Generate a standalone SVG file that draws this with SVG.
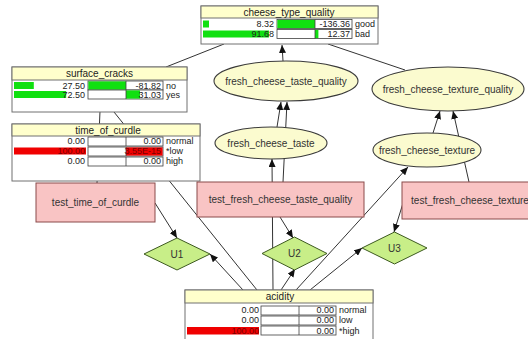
<svg xmlns="http://www.w3.org/2000/svg" width="528" height="339" viewBox="0 0 528 339">
<style>
.frame{fill:#fff;stroke:#707070;stroke-width:1}
.tbar{fill:#ffffcc;stroke:#707070;stroke-width:1}
.tt{font-family:"Liberation Sans",Arial,sans-serif;font-size:10px;fill:#222;text-anchor:middle}
.v{font-family:"Liberation Sans",Arial,sans-serif;font-size:9px;fill:#222;text-anchor:end}
.vr{font-family:"Liberation Sans",Arial,sans-serif;font-size:9px;fill:#7a0000;text-anchor:end}
.lab{font-family:"Liberation Sans",Arial,sans-serif;font-size:9px;fill:#222}
.box{fill:#fff;stroke:#404040;stroke-width:0.8}
.div{stroke:#404040;stroke-width:0.8}
.g{fill:#10e010}
.r{fill:#f00000}
.ell{fill:#fbfbcf;stroke:#3a3a3a;stroke-width:1.1}
.pink{fill:#f9c4c4;stroke:#8a4a4a;stroke-width:1}
.dia{fill:#c8ee88;stroke:#3d5a20;stroke-width:1}
.nt{font-family:"Liberation Sans",Arial,sans-serif;font-size:10px;fill:#333;text-anchor:middle}
.edge{stroke:#333;stroke-width:1;fill:none}
</style>
<defs>
<marker id="ah" markerUnits="userSpaceOnUse" markerWidth="9" markerHeight="7" refX="8" refY="3.5" orient="auto">
<path d="M0,0 L8,3.5 L0,7 z" fill="#111"/>
</marker>
</defs>

<g id="connectors">
<line class="edge" x1="166" y1="67" x2="224" y2="44"/>
<line class="edge" x1="283" y1="61" x2="282" y2="45" marker-end="url(#ah)"/>
<line class="edge" x1="405" y1="70" x2="328" y2="44"/>
<line class="edge" x1="277" y1="127" x2="281" y2="102" marker-end="url(#ah)"/>
<line class="edge" x1="283" y1="182" x2="287" y2="102" marker-end="url(#ah)"/>
<line class="edge" x1="273" y1="290" x2="272" y2="159" marker-end="url(#ah)"/>
<line class="edge" x1="280" y1="217" x2="293" y2="238" marker-end="url(#ah)"/>
<line class="edge" x1="433" y1="133" x2="440" y2="111" marker-end="url(#ah)"/>
<line class="edge" x1="469" y1="182" x2="453" y2="111" marker-end="url(#ah)"/>
<line class="edge" x1="296" y1="290" x2="408" y2="167" marker-end="url(#ah)"/>
<line class="edge" x1="404" y1="200" x2="394" y2="232" marker-end="url(#ah)"/>
<line class="edge" x1="310" y1="290" x2="362" y2="248" marker-end="url(#ah)"/>
<line class="edge" x1="281" y1="290" x2="295" y2="269" marker-end="url(#ah)"/>
<line class="edge" x1="243" y1="290" x2="210" y2="254" marker-end="url(#ah)"/>
<line class="edge" x1="155" y1="203" x2="177" y2="238" marker-end="url(#ah)"/>
<line class="edge" x1="97" y1="183" x2="100" y2="111"/>
<line class="edge" x1="257" y1="290" x2="114" y2="112"/>
</g>

<g id="cheese_type_quality">
<rect class="frame" x="201" y="6" width="177" height="38"/>
<rect class="tbar" x="201" y="6" width="177" height="12"/>
<text class="tt" x="289" y="15.5">cheese_type_quality</text>
<rect class="g" x="203" y="20.5" width="6" height="7"/>
<text class="v" x="274" y="27">8.32</text>
<rect class="box" x="277" y="19.5" width="75" height="9"/>
<rect class="g" x="277.4" y="19.9" width="37.6" height="8.2"/>
<line class="div" x1="315" y1="19.5" x2="315" y2="28.5"/>
<text class="v" x="350" y="27">-136.36</text>
<text class="lab" x="355" y="27">good</text>
<rect class="g" x="203" y="30.5" width="66" height="7"/>
<text class="v" x="274" y="37">91.68</text>
<rect class="box" x="277" y="29.5" width="75" height="9"/>
<rect class="g" x="315" y="29.9" width="3.4" height="8.2"/>
<line class="div" x1="315" y1="29.5" x2="315" y2="38.5"/>
<text class="v" x="350" y="37">12.37</text>
<text class="lab" x="355" y="37">bad</text>
</g>

<g id="surface_cracks">
<rect class="frame" x="12" y="67" width="175" height="45"/>
<rect class="tbar" x="12" y="67" width="175" height="13"/>
<text class="tt" x="99.5" y="77">surface_cracks</text>
<rect class="g" x="14" y="82" width="19.8" height="7"/>
<text class="v" x="85" y="88.5">27.50</text>
<rect class="box" x="88" y="81" width="75" height="9"/>
<rect class="g" x="88.4" y="81.4" width="37.6" height="8.2"/>
<line class="div" x1="126" y1="81" x2="126" y2="90"/>
<text class="v" x="161" y="88.5">-81.82</text>
<text class="lab" x="166" y="88.5">no</text>
<rect class="g" x="14" y="91" width="52.2" height="7"/>
<text class="v" x="85" y="97.5">72.50</text>
<rect class="box" x="88" y="90" width="75" height="9"/>
<rect class="g" x="126" y="90.4" width="14" height="8.2"/>
<line class="div" x1="126" y1="90" x2="126" y2="99"/>
<text class="v" x="161" y="97.5">31.03</text>
<text class="lab" x="166" y="97.5">yes</text>
</g>

<g id="time_of_curdle">
<rect class="frame" x="12" y="124" width="188" height="57"/>
<rect class="tbar" x="12" y="124" width="188" height="12"/>
<text class="tt" x="108" y="133.5">time_of_curdle</text>
<text class="v" x="85" y="144">0.00</text>
<rect class="box" x="88" y="137" width="75" height="9"/>
<line class="div" x1="126" y1="137" x2="126" y2="146"/>
<text class="v" x="161" y="144">0.00</text>
<text class="lab" x="166" y="144">normal</text>
<rect class="r" x="14" y="147.5" width="72" height="7"/>
<text class="vr" x="85" y="154">100.00</text>
<rect class="box" x="88" y="147" width="75" height="9"/>
<rect class="r" x="126" y="147.4" width="36.6" height="8.2"/>
<line class="div" x1="126" y1="147" x2="126" y2="156"/>
<text class="vr" x="161" y="154">3.55E-15</text>
<text class="lab" x="166" y="154">*low</text>
<text class="v" x="85" y="164">0.00</text>
<rect class="box" x="88" y="157" width="75" height="9"/>
<line class="div" x1="126" y1="157" x2="126" y2="166"/>
<text class="v" x="161" y="164">0.00</text>
<text class="lab" x="166" y="164">high</text>
</g>

<g id="acidity">
<rect class="frame" x="185" y="290" width="188" height="55"/>
<rect class="tbar" x="185" y="290" width="188" height="13"/>
<text class="tt" x="280" y="300">acidity</text>
<text class="v" x="259" y="313">0.00</text>
<rect class="box" x="261" y="306" width="75" height="9"/>
<line class="div" x1="299" y1="306" x2="299" y2="315"/>
<text class="v" x="334" y="313">0.00</text>
<text class="lab" x="339" y="313">normal</text>
<text class="v" x="259" y="323">0.00</text>
<rect class="box" x="261" y="316" width="75" height="9"/>
<line class="div" x1="299" y1="316" x2="299" y2="325"/>
<text class="v" x="334" y="323">0.00</text>
<text class="lab" x="339" y="323">low</text>
<rect class="r" x="187" y="327" width="72" height="7.5"/>
<text class="vr" x="259" y="333.5">100.00</text>
<rect class="box" x="261" y="326" width="75" height="9"/>
<line class="div" x1="299" y1="326" x2="299" y2="335"/>
<text class="v" x="334" y="333.5">0.00</text>
<text class="lab" x="339" y="333.5">*high</text>
</g>

<g id="fresh_cheese_taste_quality">
<ellipse class="ell" cx="286" cy="81" rx="72" ry="20"/>
<text class="nt" x="286" y="84.5">fresh_cheese_taste_quality</text>
</g>
<g id="fresh_cheese_taste">
<ellipse class="ell" cx="271" cy="143" rx="56" ry="16"/>
<text class="nt" x="271" y="146.5">fresh_cheese_taste</text>
</g>
<g id="fresh_cheese_texture_quality">
<ellipse class="ell" cx="448" cy="89" rx="76" ry="22"/>
<text class="nt" x="448" y="92.5">fresh_cheese_texture_quality</text>
</g>
<g id="fresh_cheese_texture">
<ellipse class="ell" cx="427" cy="150" rx="54" ry="17"/>
<text class="nt" x="427" y="153.5">fresh_cheese_texture</text>
</g>

<g id="test_time_of_curdle">
<rect class="pink" x="36" y="183" width="119" height="39"/>
<text class="nt" x="95.5" y="206">test_time_of_curdle</text>
</g>
<g id="test_fresh_cheese_taste_quality">
<rect class="pink" x="197" y="182" width="167" height="35"/>
<text class="nt" x="280.5" y="203">test_fresh_cheese_taste_quality</text>
</g>
<g id="test_fresh_cheese_texture">
<rect class="pink" x="402" y="182" width="136" height="37"/>
<text class="nt" x="470" y="204">test_fresh_cheese_texture</text>
</g>

<g id="U1">
<polygon class="dia" points="144,254 177,238 210,254 177,270"/>
<text class="nt" x="177" y="257.5">U1</text>
</g>
<g id="U2">
<polygon class="dia" points="262,253.5 294.5,237 327,253.5 294.5,270"/>
<text class="nt" x="294.5" y="257">U2</text>
</g>
<g id="U3">
<polygon class="dia" points="362,248 394.5,232 427,248 394.5,264"/>
<text class="nt" x="394.5" y="251.5">U3</text>
</g>
</svg>
